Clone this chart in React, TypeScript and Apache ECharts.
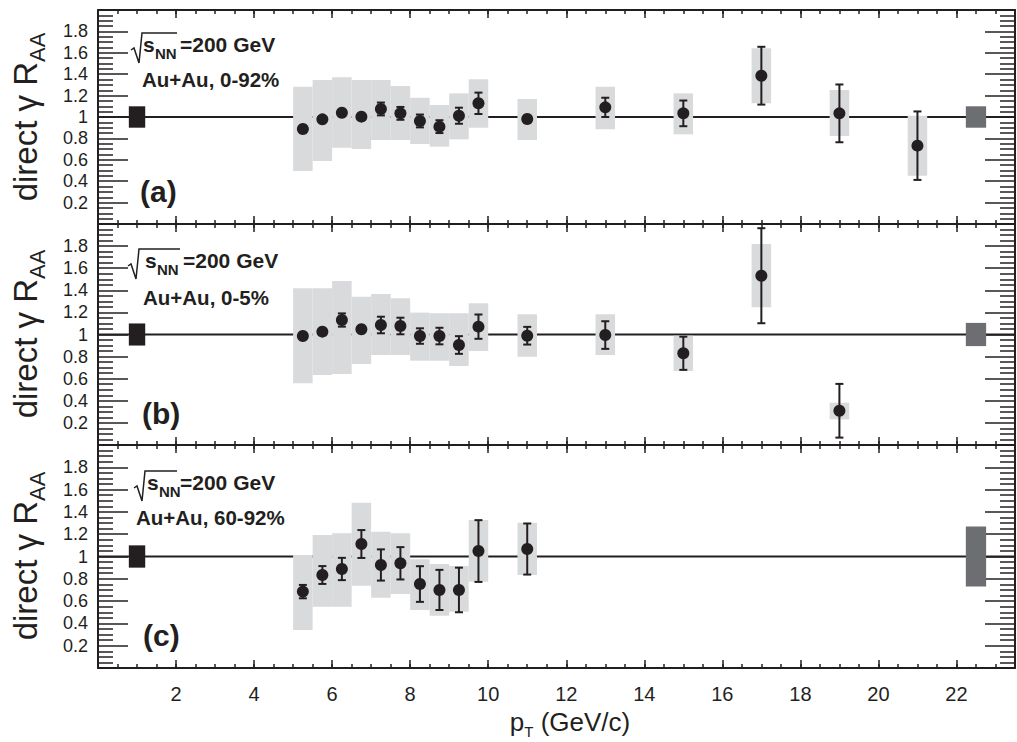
import { useEffect, useRef } from 'react';
import * as echarts from 'echarts';

// ---------------- data ----------------
const lowBinCenters = [5.25, 5.75, 6.25, 6.75, 7.25, 7.75, 8.25, 8.75, 9.25, 9.75];

// Panel (a): Au+Au 0-92%
const aX = [...lowBinCenters, 11, 13, 15, 17, 19, 21];
const aY = [0.888, 0.978, 1.04, 1.003, 1.075, 1.034, 0.963, 0.91, 1.012, 1.128, 0.981, 1.09, 1.034, 1.386, 1.034, 0.732];
const aStat = [0.02, 0.02, 0.02, 0.02, 0.06, 0.06, 0.06, 0.06, 0.075, 0.1, 0.03, 0.09, 0.12, 0.27, 0.27, 0.32];
const aSysHigh = [1.283, 1.346, 1.371, 1.346, 1.346, 1.29, 1.18, 1.112, 1.221, 1.352, 1.168, 1.283, 1.221, 1.642, 1.252, 1.012];
const aSysLow = [0.495, 0.589, 0.713, 0.701, 0.785, 0.785, 0.748, 0.723, 0.791, 0.9, 0.785, 0.885, 0.838, 1.128, 0.822, 0.451];

// Panel (b): Au+Au 0-5%
const bX = [...lowBinCenters, 11, 13, 15, 17, 19];
const bY = [0.986, 1.026, 1.131, 1.047, 1.086, 1.077, 0.986, 0.986, 0.905, 1.071, 0.989, 0.995, 0.83, 1.532, 0.31];
const bStat = [0.02, 0.02, 0.06, 0.02, 0.075, 0.075, 0.07, 0.075, 0.08, 0.11, 0.08, 0.125, 0.15, 0.43, 0.243];
const bSysHigh = [1.418, 1.418, 1.484, 1.342, 1.367, 1.327, 1.198, 1.192, 1.192, 1.282, 1.183, 1.183, 0.989, 1.819, 0.383];
const bSysLow = [0.558, 0.633, 0.642, 0.733, 0.814, 0.814, 0.763, 0.763, 0.715, 0.851, 0.799, 0.814, 0.67, 1.246, 0.232];

// Panel (c): Au+Au 60-92%
const cX = [...lowBinCenters, 11];
const cY = [0.685, 0.834, 0.888, 1.112, 0.924, 0.939, 0.753, 0.7, 0.7, 1.049, 1.067];
const cStat = [0.06, 0.08, 0.1, 0.125, 0.14, 0.145, 0.16, 0.18, 0.2, 0.277, 0.229];
const cSysHigh = [1.013, 1.193, 1.208, 1.483, 1.223, 1.208, 0.975, 0.933, 0.915, 1.327, 1.303];
const cSysLow = [0.341, 0.55, 0.55, 0.738, 0.631, 0.664, 0.52, 0.469, 0.505, 0.774, 0.834];

// normalisation uncertainty boxes at unity (left: black, right: grey)
const normX = [1, 22.5];
const aNormHalf = [0.1, 0.1];
const bNormHalf = [0.1, 0.105];
const cNormHalf = [0.1, 0.27];

const unityLine = [[0, 1], [23.5, 1]];

const yTickValuesMin = 0;
const yTickValuesMax = 2;
const xMax = 23.5;

// ---------------- styles ----------------
const AX = '#231f20';
const BAND = '#d9dadc';
const GREY = '#6d6e71';
const SANS = "'Liberation Sans', Arial, Helvetica, sans-serif";

const grids = [
  { left: 98, top: 10, width: 917, height: 214 },
  { left: 98, top: 224, width: 917, height: 221 },
  { left: 98, top: 445, width: 917, height: 223 },
];

let _ctx: CanvasRenderingContext2D | null = null;
function tw(text: string, font: string) {
  if (!_ctx) _ctx = document.createElement('canvas').getContext('2d');
  _ctx!.font = font;
  return _ctx!.measureText(text).width;
}

function txt(x: number, baseline: number, text: string, size: number, bold: boolean, family = SANS) {
  return {
    type: 'text',
    x,
    y: baseline - 0.35 * size,
    silent: true,
    style: {
      text,
      font: `${bold ? 'bold ' : ''}${size}px ${family}`,
      fill: AX,
      textAlign: 'left',
      textVerticalAlign: 'middle',
    },
  };
}

function yTitle(cx: number, cy: number) {
  const F = 33;
  const FS = 22;
  const main = 'direct γ R';
  const sub = 'AA';
  const w1 = tw(main, `${F}px ${SANS}`);
  const w2 = tw(sub, `${FS}px ${SANS}`);
  const x0 = -(w1 + w2) / 2;
  return {
    type: 'group',
    x: cx,
    y: cy,
    rotation: Math.PI / 2,
    children: [txt(x0, 0, main, F, false), txt(x0 + w1, 8, sub, FS, false)],
  };
}

function xTitle(cx: number, baseline: number) {
  const F = 26;
  const FS = 15;
  const w1 = tw('p', `${F}px ${SANS}`);
  const w2 = tw('T', `${FS}px ${SANS}`);
  const w3 = tw(' (GeV/c)', `${F}px ${SANS}`);
  const x0 = cx - (w1 + w2 + w3) / 2;
  return {
    type: 'group',
    children: [
      txt(x0, baseline, 'p', F, false),
      txt(x0 + w1, baseline + 6, 'T', FS, false),
      txt(x0 + w1 + w2, baseline, ' (GeV/c)', F, false),
    ],
  };
}

function annot(p: any) {
  const { R, S, E, B, L2x, B2, Lx, Bl, line2, tag } = p;
  return {
    type: 'group',
    children: [
      {
        type: 'polyline',
        silent: true,
        shape: { points: [[R, B - 2], [R + 3, B - 4], [R + 8, B + 11], [R + 11, B - 19], [E - 3, B - 19]] },
        style: { stroke: AX, lineWidth: 1.5, fill: null },
      },
      txt(S, B, 's', 21, true),
      txt(S + 12, B + 7, 'NN', 15, true),
      txt(E, B, '=200 GeV', 21, true),
      txt(L2x, B2, line2, 20.5, true),
      txt(Lx, Bl, tag, 30, true),
    ],
  };
}

function xAxes(g: number, labels: boolean) {
  const line = { color: AX, width: 2 };
  const tick = { color: AX, width: 1.5 };
  const base: any = {
    gridIndex: g,
    type: 'value',
    min: 0,
    max: xMax,
    splitLine: { show: false },
  };
  const lab = labels
    ? {
        show: true,
        margin: 16,
        fontSize: 20,
        fontFamily: SANS,
        color: AX,
        formatter: (v: number) => (v > 0 && v < 23 && Math.abs(v % 2) < 1e-6 ? String(v) : ''),
      }
    : { show: false };
  return [
    { ...base, position: 'bottom', interval: 0.5, axisLine: { show: true, onZero: false, lineStyle: line }, axisTick: { show: true, inside: true, length: 4, lineStyle: tick }, axisLabel: { show: false } },
    { ...base, position: 'bottom', interval: 2, axisLine: { show: false, onZero: false }, axisTick: { show: true, inside: true, length: 8, lineStyle: tick }, axisLabel: lab },
    { ...base, position: 'top', interval: 0.5, axisLine: { show: true, onZero: false, lineStyle: line }, axisTick: { show: true, inside: true, length: 4, lineStyle: tick }, axisLabel: { show: false } },
    { ...base, position: 'top', interval: 2, axisLine: { show: false, onZero: false }, axisTick: { show: true, inside: true, length: 8, lineStyle: tick }, axisLabel: { show: false } },
  ];
}

function yAxes(g: number) {
  const line = { color: AX, width: 2 };
  const tick = { color: AX, width: 1.5 };
  const base: any = {
    gridIndex: g,
    type: 'value',
    min: yTickValuesMin,
    max: yTickValuesMax,
    interval: 0.2,
    splitLine: { show: false },
    axisLine: { show: true, onZero: false, lineStyle: line },
    axisTick: { show: true, inside: true, length: 30, lineStyle: tick },
    minorTick: { show: true, splitNumber: 4, length: 15, lineStyle: tick },
  };
  return [
    {
      ...base,
      position: 'left',
      axisLabel: {
        show: true,
        margin: 10,
        fontSize: 18,
        fontFamily: SANS,
        color: AX,
        formatter: (v: number) => (v < 0.1 || v > 1.9 ? '' : String(Math.round(v * 10) / 10)),
      },
    },
    { ...base, position: 'right', axisLabel: { show: false } },
  ];
}

function panelSeries(g: number, xs: number[], ys: number[], stat: number[], hi: number[], lo: number[], normHalf: number[]) {
  const xi = g * 4;
  const yi = g * 2;
  const common = { xAxisIndex: xi, yAxisIndex: yi, silent: true, animation: false };
  return [
    {
      ...common,
      type: 'line',
      data: unityLine,
      symbol: 'none',
      lineStyle: { color: AX, width: 2 },
      z: 1,
    },
    {
      ...common,
      type: 'custom',
      z: 2,
      data: xs.map((x, i) => [x, lo[i], hi[i]]),
      encode: { x: 0, y: [1, 2] },
      renderItem: (_p: any, api: any) => {
        const x = api.value(0);
        const p0 = api.coord([x - 0.25, api.value(2)]);
        const p1 = api.coord([x + 0.25, api.value(1)]);
        return {
          type: 'rect',
          shape: { x: p0[0], y: p0[1], width: p1[0] - p0[0], height: p1[1] - p0[1] },
          style: { fill: BAND },
        };
      },
    },
    {
      ...common,
      type: 'custom',
      z: 3,
      data: normX.map((x, i) => [x, 1 - normHalf[i], 1 + normHalf[i]]),
      encode: { x: 0, y: [1, 2] },
      renderItem: (p: any, api: any) => {
        const x = api.value(0);
        const hw = p.dataIndex === 0 ? 0.21 : 0.26;
        const p0 = api.coord([x - hw, api.value(2)]);
        const p1 = api.coord([x + hw, api.value(1)]);
        return {
          type: 'rect',
          shape: { x: p0[0], y: p0[1], width: p1[0] - p0[0], height: p1[1] - p0[1] },
          style: { fill: p.dataIndex === 0 ? AX : GREY },
        };
      },
    },
    {
      ...common,
      type: 'custom',
      z: 4,
      data: xs.map((x, i) => [x, ys[i], stat[i]]),
      encode: { x: 0, y: 1 },
      renderItem: (_p: any, api: any) => {
        const x = api.value(0);
        const y = api.value(1);
        const e = api.value(2);
        const t = api.coord([x, y + e]);
        const b = api.coord([x, y - e]);
        const cap = 4;
        const st = { stroke: AX, lineWidth: 2 };
        return {
          type: 'group',
          children: [
            { type: 'line', shape: { x1: t[0], y1: t[1], x2: b[0], y2: b[1] }, style: st },
            { type: 'line', shape: { x1: t[0] - cap, y1: t[1], x2: t[0] + cap, y2: t[1] }, style: st },
            { type: 'line', shape: { x1: b[0] - cap, y1: b[1], x2: b[0] + cap, y2: b[1] }, style: st },
          ],
        };
      },
    },
    {
      ...common,
      type: 'scatter',
      z: 5,
      data: xs.map((x, i) => [x, ys[i]]),
      symbol: 'circle',
      symbolSize: 12,
      itemStyle: { color: AX, opacity: 1 },
    },
  ];
}

export default function App() {
  const ref = useRef<HTMLDivElement>(null);
  useEffect(() => {
    if (!ref.current) return;
    const chart = echarts.init(ref.current, null, { renderer: 'svg' });
    const option: any = {
      animation: false,
      backgroundColor: '#ffffff',
      grid: grids.map((g) => ({ ...g, containLabel: false, outerBoundsMode: 'none' })),
      xAxis: [...xAxes(0, false), ...xAxes(1, false), ...xAxes(2, true)],
      yAxis: [...yAxes(0), ...yAxes(1), ...yAxes(2)],
      series: [
        ...panelSeries(0, aX, aY, aStat, aSysHigh, aSysLow, aNormHalf),
        ...panelSeries(1, bX, bY, bStat, bSysHigh, bSysLow, bNormHalf),
        ...panelSeries(2, cX, cY, cStat, cSysHigh, cSysLow, cNormHalf),
      ],
      graphic: {
        elements: [
          yTitle(37, 117),
          yTitle(37, 334),
          yTitle(37, 556),
          xTitle(570, 731),
          annot({ R: 131, S: 143, E: 180, B: 52, L2x: 142, B2: 87, Lx: 140, Bl: 202, line2: 'Au+Au, 0-92%', tag: '(a)' }),
          annot({ R: 128, S: 145, E: 183, B: 268, L2x: 143, B2: 305, Lx: 142, Bl: 424, line2: 'Au+Au, 0-5%', tag: '(b)' }),
          annot({ R: 134, S: 147, E: 180, B: 490, L2x: 136, B2: 525, Lx: 143, Bl: 646, line2: 'Au+Au, 60-92%', tag: '(c)' }),
        ],
      },
    };
    chart.setOption(option);
    return () => chart.dispose();
  }, []);
  return (
    <div
      ref={ref}
      style={{ position: 'fixed', left: 0, top: 0, width: 1017, height: 742, background: '#fff' }}
    />
  );
}
